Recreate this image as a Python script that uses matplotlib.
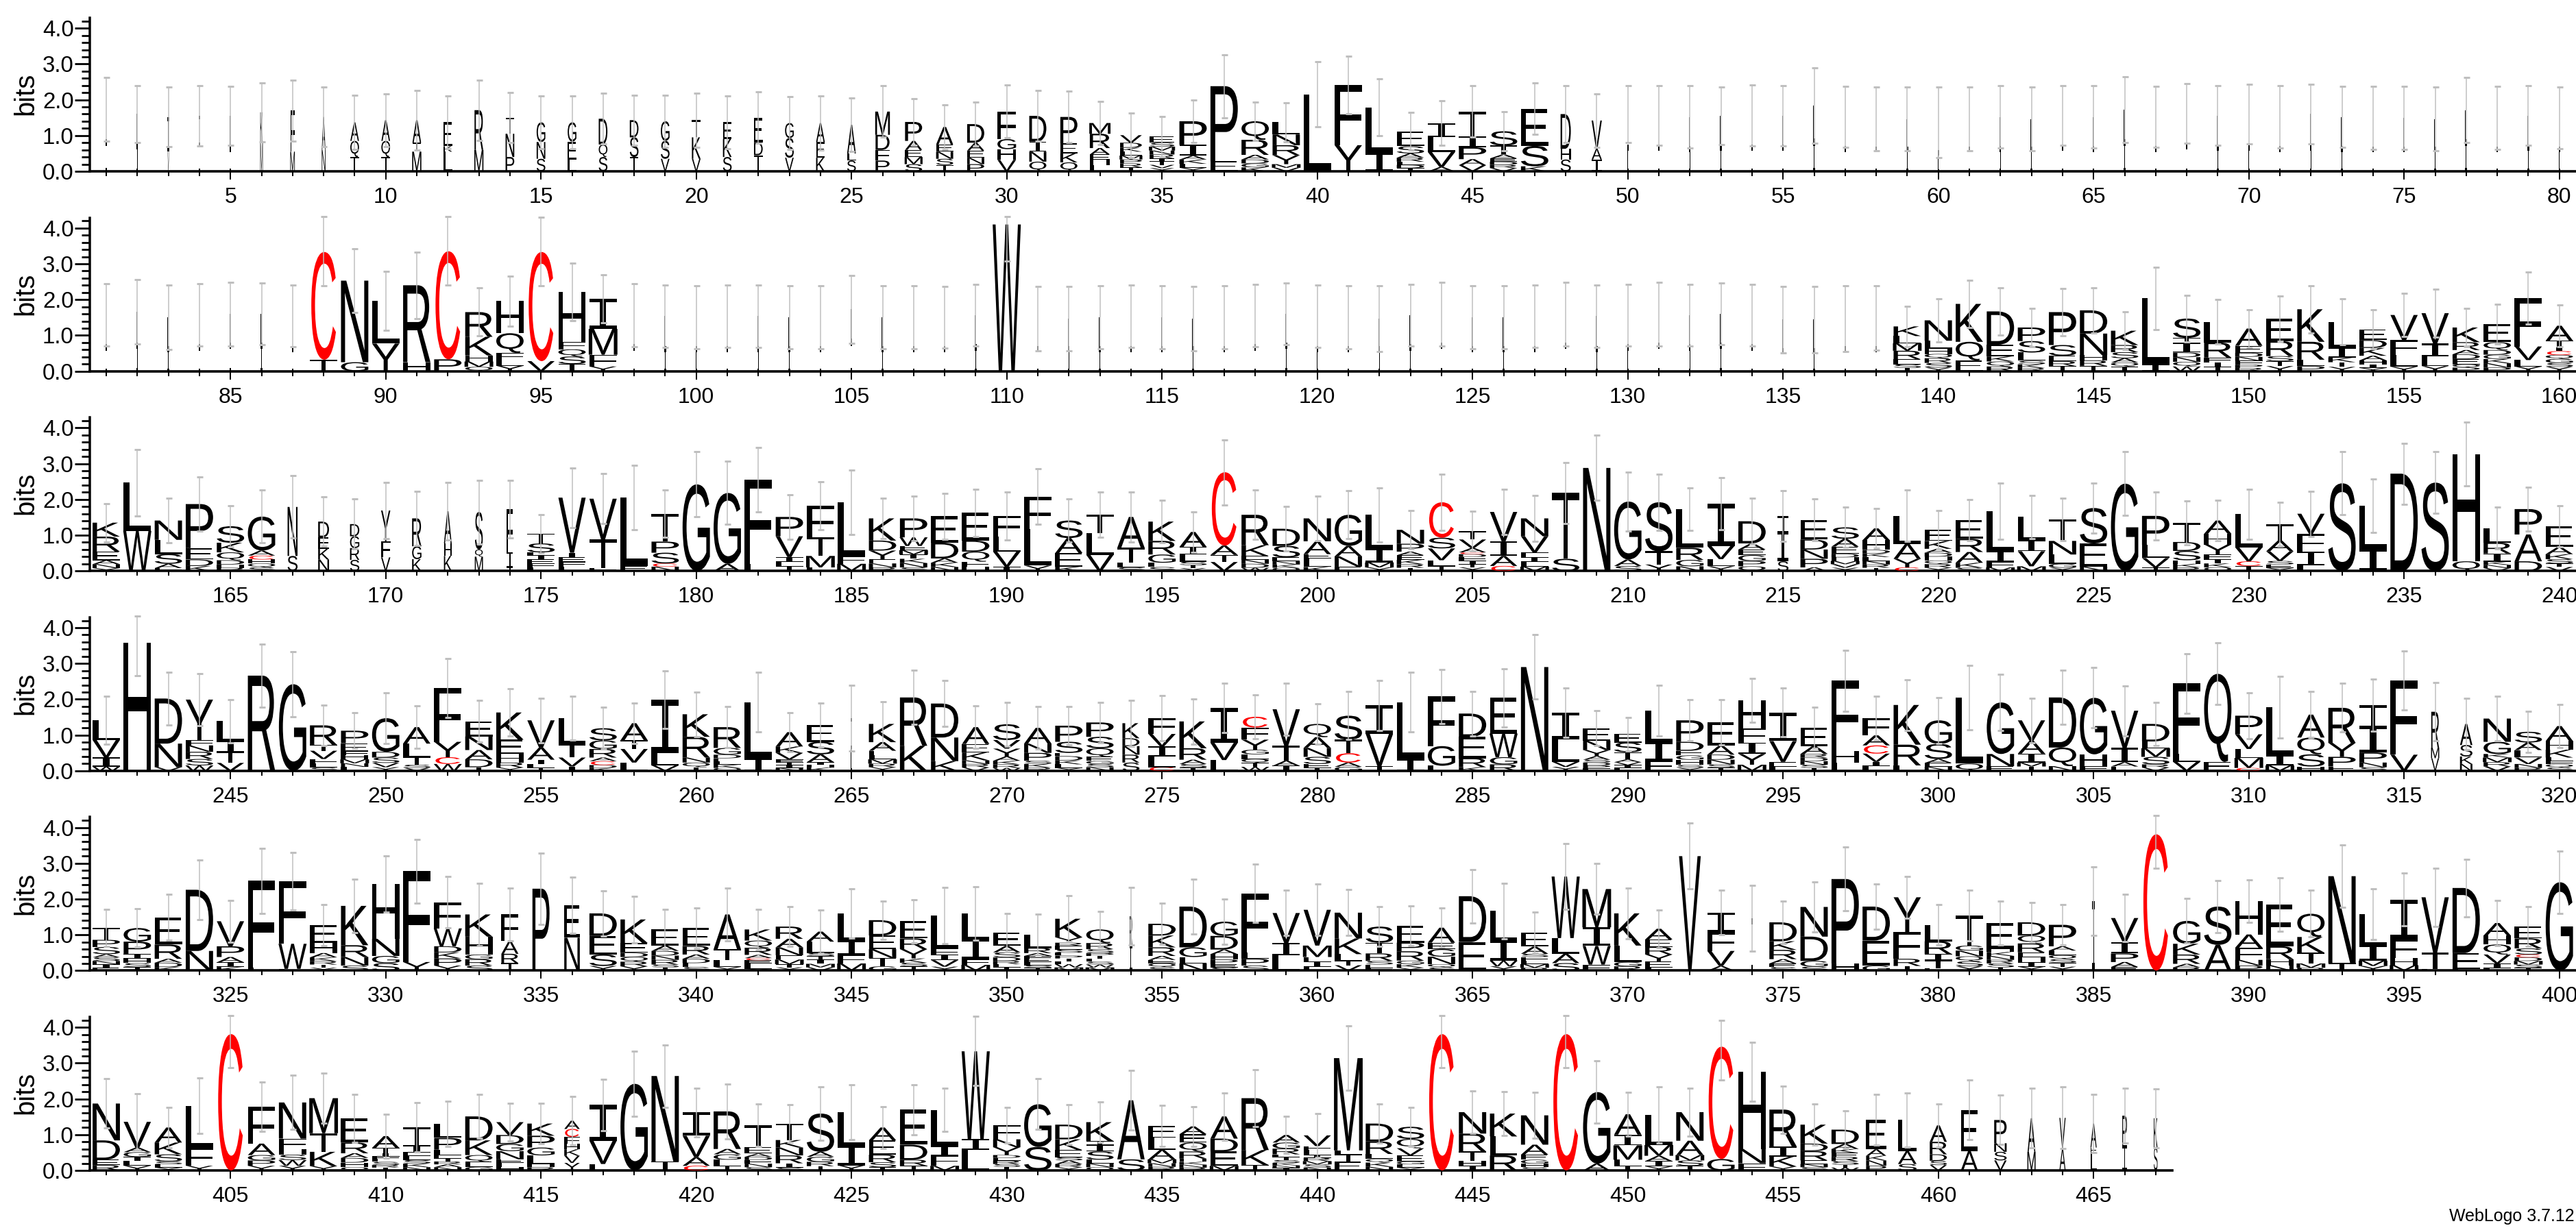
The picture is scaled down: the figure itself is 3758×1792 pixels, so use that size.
import re
import numpy as np
import matplotlib
matplotlib.use("Agg")
import matplotlib.pyplot as plt
from matplotlib.patheffects import AbstractPathEffect
from matplotlib.transforms import Affine2D

# Stacks: bottom-to-top letters, each followed by its height in hundredths of a bit.
ROW1_STACKS = [
 "I80L93","I70L90","V55I97","L70I85","I60L95","M80K85","M55F115","N60A92","T40Q45A52","T40Q45A58",
 "M55T25A63","L55K15E67","M60R111","P40N65T45","S35N47G55","L33E50G54","S40Q35D72","T40S55D48","V35S50G55","V35K60T48",
 "S40K50E47","T45D35E70","V38S55G42","K38E44A53","S30L20A80","P30F30D42M65","S20M20E20A25P53","T18S17N20E20A49","P20N18E20A22D52","V32H30G28F77",
 "Q27N28I28D72","Q25K25E28P74","L17H15E15A18R40M30","T11R11P11M11L11K11D14V21","Y9V9T9I9R11N11M11S11E17","Y10L11K12A11I30P66","E28P210","K11G11D11A13R42Q52","V10M10Y25R28N30L34","L215",
 "Y73F168","I53L126","T9D9L9R11A12S20E42","A12V42L42I39","V17A17P33I30T70","V9R9D9E9A11T25S40","K14S57E104","S33H30D97","I33A30V79","I65L95",
 "I65L91","I60L92","I65L90","I65L91","I65L90","I80L104","I60L92","I60L86","I60L86","I50L87",
 "I60L86","I60L92","I60L86","I65L91","I60L92","I80L92","I60L92","I70L92","I65L91","I65L95",
 "I60L92","I65L95","I60L92","I60L89","I60L89","I60L86","I80L91","I60L89","I65L91","I60L89"]
ROW2_STACKS = [
 "I65L92","I70L95","I60L90","I65L92","I70L90","I70L90","I60L94","T32C301","G25N228","Y77L120",
 "H25R215","P33C302","Q12M15H17K52R69","Y15L17F19Q55H90","V28C305","T20S21Q20F21H139","Y13F33M72I84","I65L92","I60L94","I60L91",
 "I60L94","I60L94","I60L91","I60L91","I80L93","I60L91","I60L91","I60L91","I65L91","W410",
 "I60L87","I60L87","I60L91","I60L94","I60L91","I60L87","I60L91","I65L90","I70L90","I60L94",
 "I60L91","I60L87","I65L92","I70L90","I60L91","I60L91","I60L94","I70L90","I60L94","I65L92",
 "I70L90","I65L92","I70L90","I65L92","I55L89","I55L89","I60L87","I60L89","T9S10E14R24M21L20K27","Y10S13R13Q12H15L22N57",
 "E30Q52K106","R13Q14K14E33D93","R9K10S10L23S32P38","T14R14E15S30P92","T15R15H15N60D65","T13Q11A12S17R20K40","I19L185","W13Q13N13D13I28T13S54","T12I13F13R42L58","R9P9F11N11D11E20A48",
 "Y14T14S14R42E63","P14L18R50K91","Y12T13K13I28L72","Y9I10H11A13K22D22E30","Y12L33F42V70","Y14L28I35V85","P10Q9E15D13A12R22K41","P10N12K12G12D13Q22E50","Y13L18V38F135","Y12S11G11Q11C11I11T18A42"]
ROW3_STACKS = [
 "Y8N11A11E24R42K39","W112L135","F8A12S27L40N54","K14D18E32P123","R9H9D12Q22K27S46","S10Q11H11C11A14G95","S42N137","N32K30E32D44","S31R33G33D34","V38F45Y86",
 "K33G36R78","K42H35A90","M40Q20S105","T8I45F120","L10F10E12I12L8S25T27","L12F13E13I13V154","F8T80V114","E13L192","N12C9S30P31T78","G242",
 "A20G198","L20F236","T13L13I13V58P54","L10M32T52F89","M20F22L150","R10N11E12Y24D28K62","S10N12K12I12M12E12W24P53","N11K12A12D44E74","H12F14Q28D31E78","I12V42L42F58",
 "Y15L102F91","K12E38A42S49","V45L60T53","S10L13T42A86","S11L12G23R38K54","Y8T8S10L20I21A42","V25T20A26C205","W9D11N11E11K30R85","Q9K9N9E11S32D48","K11L24E12A36N64",
 "E12N29A29G87","Y10M14I39L94","T9R10K12E13A10P22N39","T14L16V33S30C99","Y10T9I10F10D8C5A12V24T23","C14A28I41V82","M12L14I12F14V45N50","S34T184","N288","S14A18G162",
 "Y18T37S137","N13G18R34L108","Y13L20V37I118","Q13P15G16E16A17D62","S27I85T41","A10P24N26D28E55","Y9V10M9H10D10E20A22S32","T9R9N10L11K10D10H27A33","C10Y24A42L78","Y9R10Q10H11D11A11K22E31",
 "S9K14A30R37E52","M10F15I31L111","M13V42I32L64","Y9G11L26N38T60","N12E65S99","G244","T10V26L37P81","R10K10H10S26D25T54","Q10K11I12F13Y28H30A37","T14C13V39L93",
 "Y8E10S10V27A30T45","L15I39F50V56","S245","I62L121","D272","S247","Q27H300","V8N9K9I23R30L41","D27A75P71","V11T10S12K14A20E58"]
ROW4_STACKS = [
 "W12I25V49L55","H358","V10N66D126","W15S18R20N18F15Y113","V22T30I32L55","R266","G242","S9L11F13V23T16R55","L11N10M11H12F11E22P35","Y10V12S15D16G94",
 "V8S9T21L38A46","W19C19Y43F151","T10D22A26N38E42","Y9R14H24E40K76","T9L9I13A34V76","I12V25T38L72","K8D8C11A10R24G24S34","L23V38T24A48","V15L34I150","T10Q13N14R58K63",
 "Q8K9L9E9D10G19R58","I35L157","N8I8T8F8V18K18A40","K9H7I8A22S35E47","L60I87","Y10R10M12L12F12A24K51","K70R135","K27N66D95","V9R10N10K22E24A47","W8R10K10A12Y22V24S44",
 "R9K10S9P22N26A44","Y8L10K11D12E9S31P45","N10S9G9E11Q24S32P40","S23R22N24D22K42","C10L30I28V35F44","T9S10A12R32K75","L30V48I97","W11T11Q11L13G13Y28F34C30","I14A14T42V102","T9E10S20N25A30Q37",
 "G11A12C26T38S67","T13V90I80","I33L159","L14G55F139","K10R25E60D65","R18G20W66E100","N290","Y11V14L63I75","F7P8D8S8A10Y17N26E35","L8I8V8A8T20S27E24",
 "F28I52L88","Y8S8H15G12E13D25P60","T9S9N13D14A26E65","M17Y30I32F40H78","L12E13V58I80","T8S9N10D10R10A22E51","L22H33F197","L13I12V23C23A28F48","L15R58K111","N11E11A11S42G66",
 "Q20L185","E13N34G144","T12M11I25A36V57","N13Q52D140","F13H33G158","F12A12I40V104","V9R9S21M24L19D49","V25L22F197","E25Q246","C8M28L25V41P52",
 "M15I28L135","H12S34Q47A64","E12P27Y39R98","S10N13P28I75T57","V45F208","V35M30R100","N19K21S32A59","V12R12M13K10G34N65","R8N11V18L21A21S30","S9Q9F9L10K22H24A42"]
ROW5_STACKS = [
 "E8I10N9S10A9S20P20T33","T10S11H12I13P35G38","K10D12A11R40E76","N55D171","K10I13A15P30V70","L9F242","L5W70F175","Y8T9R10K10A12H28E50","S14N24R33K110","S21G20N48H153",
 "Y24F254","Y14P20K17D17W50F73","S14R18G13H50K62","T21R26A36F74","P229","N92E91","Y13S32E52D63","Y12R13Q13D12E27K66","T9S8R13N12D13A15E45","S10L11D12A12R24E50",
 "Y10L20T30A97","Y5L15E9C6A9R20Q20K31","Y9T9M13E12N22A24R34","V9M10I12T10S8L32A28","M20F23I42L75","G12T23N25E38D43","T12S10K12Y26R30E48","Y11V18I16F16L93","M16F16I55L73","T9L9R9D10S14A18E37",
 "T8S7L9E8F9A8R14L37","M9W9L8T8P8L8S9E10R9Y15K52","M9W8S8L8T8P8S11R17Q38","I70R82","S10Q10E10A11R24K33D33","N20L18G27D114","S9E9P13H15A13D38G40","S14P19L17F166","L42I35V84","L10I16F12M32V100",
 "V15T13L18K44N72","F8E9S10R21T30S45","Y8K10G10R26P24E47","S9Q9N21G21E18A42","E80D128","Y12W16I55L84","R8M10L10F10S9A20E39","S21A26L44W172","F17W52I52M107","R12G12L46K90",
 "L8E18Y19R21E21A30","V320","A13V42F52I55","I147","S10E10A12R26K24D53","S11G16D68N83","H20P236","G14E70D95","T13R20F75Y97","F7T22I17R36L46",
 "Y12S14Q14N16G14T84","T9S11R10N11K11H9E72","Y11I13H14E13R25Q22D37","Y11T11S10Q11L13A12P60","I194","E10A14P24I32V67","C381","R9A10R26K30G64","A72S107","P14N16F34A37H93",
 "N15H17R36E117","R8M12T30K44Q65","T21N243","Y13M15I42L88","M15H20F52I112","L5T45V155","L4E45D182","L7I13V25Q28H25A35","T8S9M10D10C8S17R28E33","G247"]
ROW6_STACKS = [
 "R15E15D54N103","Y13L13I12G13A13V72","Y8L9S8S20K33A42","Y13F50L118","C381","Y13P15G15A32F104","Y13W16S15H15F30N101","Y12K40T52M98","Q9H13D13A13R30E68","T8R7S9L8F8I8T15A33",
 "N9K10S10L12E9I20T50","N9A8R8T9E9L15P33L40","G10E14Q19K41D67","H9L12E10N23G20D25V36","R9H9L24G22P33K34","Y21V20K18H15F20C22A23","L18V65I100","G242","T25N239","C13A24V60I65",
 "T12L18G15A15R105","S9N10F10D9A9E18T61","S8I12R22N22K21T46","T12R12G14A14S107","Y14I55L94","T9S14R21E40A36","T13R17D42E98","M13F28I28L100","L58I30W245","T10S8R9E8D8Y22N22F39",
 "S66G119","Y9R9A10S9E20K30D41","Q9N10L11S23I19T10K53","S31A165","R10N10M11A27L33E34","R8N8K8H9R20Q25E23A22","M13E40D36A62","T15K42R145","I7N7K7S8T8L8R16G17A21","N8S9M9R9I8L15F10V30",
 "E24T20L12M258","N10K12Q10L14R35D50","Y8L9G8E17V20Q26S34","C381","I13H13T27R50N60","R42L53K64","S9H10G11E14A28N82","C381","A19G200","T12L18M40I30A57",
 "Y11I15A15M30L84","T13S15M15A40N80","G32C314","F20N40H216","Y11K28I28R103","S9N9E10R26D21K53","W8T8S10R12E11K11A14D40","P13N15K13A18E83","S18A36L87","V15S12D18R35A46",
 "A54E115","V28S24N24P65","M52A94","A62V85","L50E14A67","I70P83","S65K81"]

# Upper end of each error bar, in bits.
ROW1_UPPER = [2.62,2.40,2.35,2.39,2.37,2.47,2.55,2.35,2.13,2.17,2.26,2.11,2.55,2.20,2.11,2.11,2.18,2.13,2.13,2.18,
 2.11,2.22,2.09,2.11,2.05,2.39,2.03,1.86,1.94,2.41,2.26,2.24,1.96,1.63,1.54,1.99,3.26,1.94,1.92,3.06,
 3.21,2.58,1.65,1.97,2.39,1.67,2.47,2.39,2.17,2.39,2.39,2.39,2.36,2.41,2.39,2.89,2.37,2.35,2.35,2.35,
 2.35,2.39,2.35,2.39,2.39,2.64,2.37,2.45,2.39,2.43,2.39,2.43,2.37,2.37,2.37,2.35,2.62,2.37,2.39,2.35]
ROW2_UPPER = [2.44,2.55,2.40,2.44,2.49,2.47,2.40,4.33,3.42,2.79,3.33,4.33,2.32,2.66,4.31,3.01,2.69,2.45,2.41,2.39,
 2.41,2.41,2.39,2.39,2.68,2.39,2.39,2.37,2.42,4.33,2.37,2.37,2.39,2.41,2.39,2.37,2.39,2.42,2.47,2.41,
 2.39,2.39,2.43,2.49,2.39,2.39,2.41,2.49,2.41,2.43,2.49,2.43,2.47,2.43,2.37,2.37,2.39,2.39,1.81,2.03,
 2.54,2.33,1.76,2.31,2.33,1.65,2.91,2.12,2.01,1.72,2.10,2.39,2.03,1.72,2.18,2.29,1.76,1.87,2.77,1.85]
ROW3_UPPER = [1.89,3.40,2.03,2.62,1.82,2.26,2.66,2.07,2.01,2.47,2.23,2.48,2.54,2.54,1.57,2.88,2.72,2.95,2.26,3.33,
 3.06,3.46,2.13,2.50,2.82,2.04,2.09,2.17,2.29,2.21,2.85,2.02,2.21,2.21,1.98,1.65,3.67,2.26,1.81,2.10,
 2.24,2.33,1.69,2.71,1.67,2.29,2.12,3.03,3.79,2.77,2.70,2.33,2.61,2.03,2.24,2.02,1.79,1.75,2.26,1.69,
 1.99,2.45,2.12,2.03,2.46,3.33,2.21,1.96,1.97,2.29,1.91,2.23,3.33,2.58,3.57,3.33,4.17,1.79,2.34,1.83]
ROW4_UPPER = [2.08,4.33,2.76,2.72,1.99,3.54,3.33,1.83,1.62,2.18,1.81,3.14,1.96,2.29,2.03,2.08,1.78,1.90,2.80,2.20,
 1.80,2.76,1.62,1.89,2.39,1.94,2.81,2.52,1.81,1.92,1.79,1.79,1.92,1.97,2.10,2.01,2.44,2.12,2.45,1.87,
 2.21,2.53,2.76,2.84,2.22,2.85,3.80,2.32,1.68,1.50,2.39,1.99,1.99,2.58,2.31,1.78,3.37,2.08,2.55,2.05,
 2.95,2.69,2.03,2.81,2.88,2.38,1.91,3.27,3.57,2.18,2.64,2.21,2.44,2.56,3.35,2.46,2.03,2.08,1.67,1.86]
ROW5_UPPER = [1.71,1.73,2.13,3.09,1.97,3.42,3.31,1.85,2.55,3.21,3.67,2.63,2.44,2.30,3.28,2.61,2.23,2.08,1.71,1.76,
 2.31,1.71,1.79,1.70,2.29,1.95,1.99,2.32,2.34,1.59,1.57,2.09,1.65,2.32,1.88,2.55,2.00,2.98,2.24,2.42,
 2.26,1.79,1.81,1.75,2.83,2.45,1.63,3.55,2.99,2.31,1.70,4.12,2.24,2.39,1.95,2.47,3.45,2.42,2.64,1.85,
 2.24,1.95,1.90,1.85,2.90,2.13,4.33,2.01,2.51,2.53,2.60,2.24,3.51,2.29,2.72,2.87,3.12,1.96,1.79,3.35]
ROW6_UPPER = [2.56,2.15,1.76,2.58,4.33,2.48,2.66,2.72,2.13,1.57,1.89,1.94,2.12,1.88,1.88,2.07,2.54,3.33,3.51,2.30,
 2.42,1.85,1.83,2.34,2.40,1.78,2.40,2.29,4.31,1.76,2.56,1.84,1.91,2.79,1.82,1.78,2.17,2.82,1.51,1.59,
 4.04,1.85,1.76,4.33,2.22,2.21,2.18,4.33,3.06,2.18,2.33,2.30,4.20,3.58,2.36,1.85,1.67,2.13,2.17,1.86,
 2.52,2.10,2.29,2.33,2.12,2.29,2.28]
# Lower ends where the upper end is cut off at the scale's maximum.
LOWER_OVERRIDE = {88: 2.39, 92: 2.41, 95: 2.39, 110: 3.08, 242: 2.66, 387: 2.87, 405: 2.87, 429: 2.37, 444: 2.87, 448: 2.87, 453: 2.52}

# Stack widths (fraction of a column) for positions with many gaps; the rest use FULL_WIDTH.
FULL_WIDTH = 0.88
NARROW_WIDTHS = {1: .05, 2: .05, 3: .05, 4: .05, 5: .05, 6: .08, 7: .14, 8: .12, 26: .45, 27: .55, 28: .55, 29: .55, 30: .6, 31: .55,
 32: .55, 33: .65, 34: .7, 35: .8, 48: .33, 49: .33, 56: .07, 66: .07, 77: .07, 167: .32, 168: .35, 169: .3, 170: .3, 171: .3, 172: .25,
 173: .25, 174: .2, 215: .35, 265: .05, 274: .55, 316: .25, 317: .4, 334: .55, 335: .55, 336: .5, 354: .08, 372: .7,
 374: .05, 385: .1, 416: .5, 458: .65, 459: .6, 460: .55, 461: .55, 462: .4, 463: .25, 464: .2, 465: .2, 466: .15, 467: .12}
NARROW_WIDTHS.update({p: .28 for p in range(9, 26)})
NARROW_WIDTHS.update({p: .05 for p in list(range(50, 56)) + list(range(57, 66)) + list(range(67, 77)) + list(range(78, 88))
                      + list(range(98, 110)) + list(range(111, 139))})
GLYPH_FACTOR = {"C": 0.9, "M": 1.05, "W": 1.03}

ROWS = [(1, ROW1_STACKS, ROW1_UPPER), (81, ROW2_STACKS, ROW2_UPPER), (161, ROW3_STACKS, ROW3_UPPER),
        (241, ROW4_STACKS, ROW4_UPPER), (321, ROW5_STACKS, ROW5_UPPER), (401, ROW6_STACKS, ROW6_UPPER)]

W, H, DPI = 3758, 1792, 100
LEFT_PX, STEP_PX = 131, 45.3
PX_PER_BIT = 52.2
YMAX = 4.29
FIRST_BASE, ROW_STEP = 250, 291.6
FONT = "Liberation Sans"
px = 72 / DPI


class FitToBox(AbstractPathEffect):
    """Stretch a letter so its outline fills a box given in data coordinates."""
    def __init__(self, ax, x0, x1, y0, y1):
        super().__init__()
        self.ax, self.box = ax, (x0, x1, y0, y1)

    def draw_path(self, renderer, gc, tpath, affine, rgbFace=None):
        x0, x1, y0, y1 = self.box
        (X0, Y0), (X1, Y1) = self.ax.transData.transform([(x0, y0), (x1, y1)])
        b = tpath.get_extents()
        fit = (Affine2D().translate(-b.x0, -b.y0)
               .scale((X1 - X0) / b.width, (Y1 - Y0) / b.height).translate(X0, Y0))
        renderer.draw_path(gc, tpath, fit, rgbFace)


plt.rcParams["font.family"] = FONT
fig = plt.figure(figsize=(W / DPI, H / DPI), dpi=DPI)

for r, (first, stacks, upper) in enumerate(ROWS):
    base = FIRST_BASE + r * ROW_STEP
    n = len(stacks)
    positions = np.arange(first, first + n)
    right_px = LEFT_PX + (n + 0.06) * STEP_PX
    ax = fig.add_axes([LEFT_PX / W, 1 - base / H, (min(right_px, W) - LEFT_PX) / W, YMAX * PX_PER_BIT / H])
    ax.patch.set_alpha(0)
    ax.set_xlim(first - 0.53, first - 0.53 + (min(right_px, W) - LEFT_PX) / STEP_PX)
    ax.set_ylim(0, YMAX)

    tops = []
    for pos, stack in zip(positions, stacks):
        y = 0.0
        width = NARROW_WIDTHS.get(int(pos), FULL_WIDTH)
        for letter, height in re.findall(r"([A-Z])(\d+)", stack):
            h = int(height) / 100
            w = width * GLYPH_FACTOR.get(letter, 1.0)
            # The nominal size keeps each letter's layout box inside its own cell;
            # the path effect then stretches the outline to the exact box.
            ax.text(pos, y, letter, ha="center", va="bottom", clip_on=False,
                    fontsize=float(np.clip(h * PX_PER_BIT * 0.7, 1.0, 28.0)),
                    family="Liberation Mono" if letter == "I" else FONT,
                    color="red" if letter == "C" else "black",
                    path_effects=[FitToBox(ax, pos - w / 2, pos + w / 2, y, y + h)])
            y += h
        tops.append(y)
    tops = np.array(tops)
    upper = np.array(upper)
    lower = np.array([LOWER_OVERRIDE.get(int(p), 2 * t - u) for p, t, u in zip(positions, tops, upper)])
    container = ax.errorbar(positions, tops, yerr=[tops - lower, upper - tops], fmt="none",
                            ecolor="#bfbfbf", elinewidth=1.5 * px, capsize=4.5 * px,
                            capthick=3 * px, zorder=5)
    for child in container.get_children():
        child.set_clip_on(False)

    for s in ("top", "right"):
        ax.spines[s].set_visible(False)
    ax.spines["left"].set_linewidth(3.5 * px)
    ax.spines["bottom"].set_linewidth(3.6 * px)

    ax.set_yticks([0, 1, 2, 3, 4], ["0.0", "1.0", "2.0", "3.0", "4.0"])
    ax.set_yticks(np.arange(0, 4.3, 0.2), minor=True)
    ax.tick_params(axis="y", which="major", length=22 * px, width=2.8 * px, pad=1, labelsize=33 * px)
    ax.tick_params(axis="y", which="minor", length=12 * px, width=2.8 * px)
    major = positions[positions % 5 == 0]
    ax.set_xticks(major, [str(p) for p in major])
    ax.set_xticks(positions, minor=True)
    ax.tick_params(axis="x", which="major", length=12 * px, width=2 * px, pad=11 * px, labelsize=32 * px)
    ax.tick_params(axis="x", which="minor", length=7 * px, width=2 * px)

    fig.text(37 / W, 1 - (base - 113) / H, "bits", rotation=90, ha="center", va="center",
             fontsize=40 * px)

fig.text(3756 / W, 1 - 1775 / H, "WebLogo 3.7.12", ha="right", va="center", fontsize=25 * px)
fig.savefig("out.png", dpi=DPI)
